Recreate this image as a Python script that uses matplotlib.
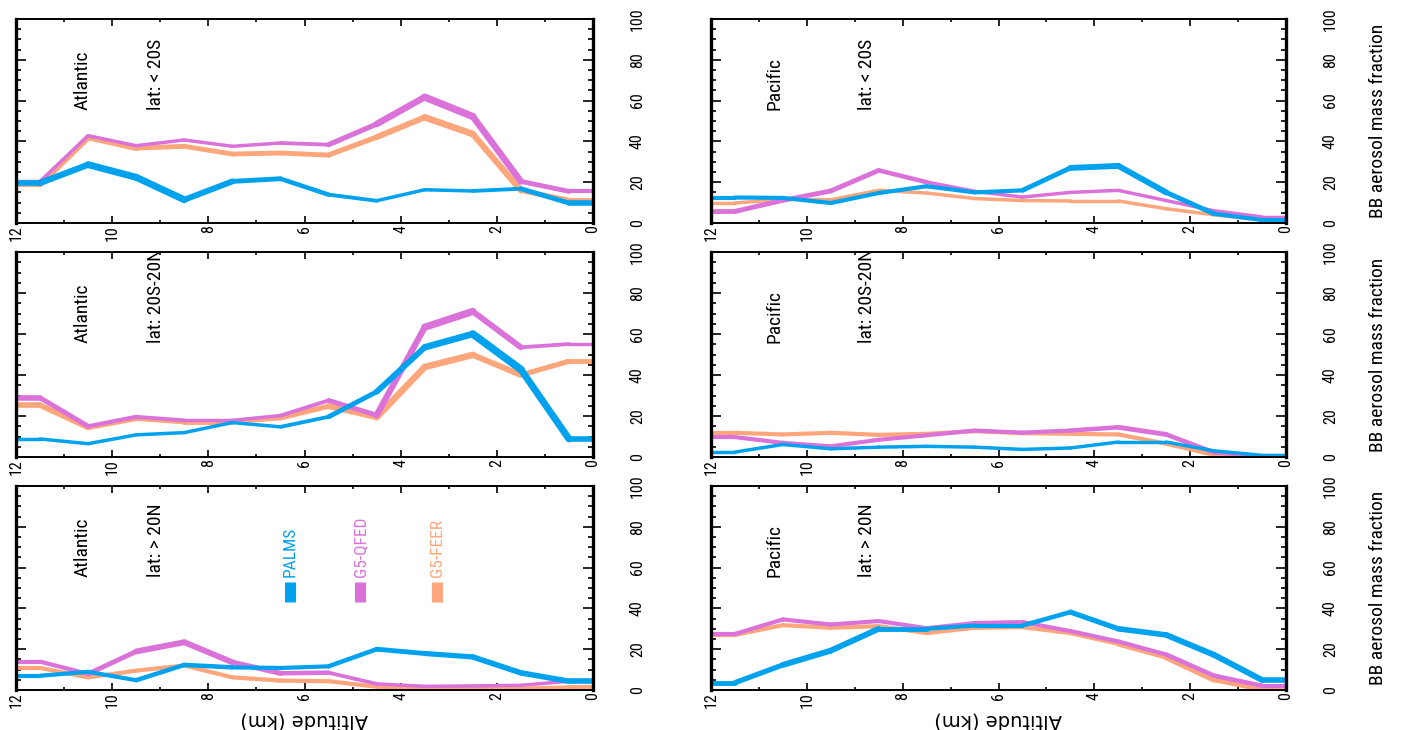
import numpy as np
import matplotlib
matplotlib.use('Agg')
import matplotlib.pyplot as plt
from matplotlib import font_manager
from matplotlib.collections import LineCollection
from matplotlib.ticker import MultipleLocator


# pick a narrow face if one is installed
def pick_font(names):
    for name in names:
        try:
            font_manager.findfont(name, fallback_to_default=False)
            return name
        except ValueError:
            pass
    return 'DejaVu Sans'


narrow = pick_font(['Liberation Sans Narrow', 'Roboto Condensed', 'Liberation Sans'])
plt.rcParams['font.family'] = [narrow, 'DejaVu Sans']

# altitude levels (km), profile ends carried to 12 and 0
alt = [12, 11.5, 10.5, 9.5, 8.5, 7.5, 6.5, 5.5, 4.5, 3.5, 2.5, 1.5, 0.5, 0]

# BB aerosol mass fraction (%), Atlantic lat < 20S
atl_s_palms = [19.6, 19.6, 28.6, 22.4, 11.4, 20.4, 21.7, 13.9, 10.9, 16.3, 15.7, 16.8, 9.8, 9.8]
atl_s_qfed = [20.4, 20.4, 42.8, 37.9, 40.7, 37.6, 39.2, 38.4, 48.5, 61.7, 52.2, 20.4, 15.5, 15.5]
atl_s_feer = [19.0, 19.0, 42.0, 36.7, 37.6, 33.8, 34.3, 33.3, 42.1, 51.8, 43.6, 16.0, 11.1, 11.1]
# Atlantic lat 20S-20N
atl_e_palms = [8.8, 8.8, 6.5, 10.8, 11.9, 16.8, 14.7, 19.6, 31.8, 53.5, 60.0, 42.7, 8.8, 8.8]
atl_e_qfed = [28.9, 28.9, 15.0, 19.6, 17.9, 17.9, 20.2, 27.6, 20.4, 63.3, 71.0, 53.5, 55.1, 55.1]
atl_e_feer = [25.3, 25.3, 14.4, 18.8, 17.1, 17.1, 19.1, 24.8, 19.4, 43.9, 49.8, 40.0, 46.7, 46.7]
# Atlantic lat > 20N
atl_n_palms = [7.0, 7.0, 8.9, 4.8, 12.3, 11.1, 10.8, 11.6, 20.0, 17.9, 16.2, 8.4, 4.3, 4.3]
atl_n_qfed = [13.9, 13.9, 7.9, 18.9, 23.4, 13.6, 8.2, 8.5, 3.0, 1.8, 2.0, 2.3, 4.3, 4.3]
atl_n_feer = [10.8, 10.8, 6.2, 9.5, 12.0, 6.2, 4.6, 4.3, 1.6, 1.0, 0.8, 0.7, 1.3, 1.3]
# Pacific lat < 20S
pac_s_palms = [12.5, 12.5, 12.3, 9.8, 14.7, 18.0, 15.0, 16.0, 27.0, 28.0, 15.0, 4.5, 1.5, 1.5]
pac_s_qfed = [5.7, 5.7, 11.1, 15.7, 25.8, 20.0, 15.5, 12.7, 15.0, 16.0, 11.0, 6.0, 3.0, 3.0]
pac_s_feer = [9.8, 9.8, 11.6, 11.4, 16.0, 14.7, 12.0, 11.0, 10.8, 10.8, 7.0, 4.0, 1.5, 1.5]
# Pacific lat 20S-20N
pac_e_palms = [2.4, 2.4, 6.1, 4.0, 4.8, 5.2, 4.8, 3.7, 4.4, 7.3, 7.3, 3.0, 0.8, 0.8]
pac_e_qfed = [9.7, 9.7, 6.9, 5.2, 8.4, 10.6, 12.9, 11.9, 12.9, 14.5, 11.0, 2.2, 0.5, 0.5]
pac_e_feer = [11.8, 11.8, 11.0, 11.8, 10.8, 11.3, 12.6, 11.6, 11.3, 11.0, 6.5, 1.0, 0.2, 0.2]
# Pacific lat > 20N
pac_n_palms = [3.6, 3.6, 12.3, 19.3, 30.0, 30.0, 31.6, 31.6, 38.2, 30.0, 27.0, 17.2, 4.9, 4.9]
pac_n_qfed = [27.5, 27.5, 34.6, 32.1, 33.8, 30.3, 32.8, 33.3, 28.9, 23.8, 17.4, 7.0, 2.1, 2.1]
pac_n_feer = [27.0, 27.0, 31.8, 30.5, 31.3, 27.9, 30.5, 30.8, 27.9, 22.6, 16.1, 5.1, 0.3, 0.3]

# line thickness at each level (scales with sampling)
atl_s_palms_w = [4, 4, 5, 5, 5, 3.5, 3.5, 3, 2.5, 2.5, 2.5, 3, 4, 4]
atl_s_qfed_w = [2.5, 2.5, 2.5, 2.5, 2.5, 2.5, 2.5, 3, 4.5, 5, 5.5, 4, 3, 3]
atl_s_feer_w = [3, 4, 5, 3.5, 3.5, 3.5, 3.5, 3.5, 4, 4.5, 5, 4, 3.5, 3.5]
atl_e_palms_w = [2.5, 2.5, 2.5, 2.5, 2.5, 2.5, 2.5, 3, 4, 4.5, 5, 6, 4, 4]
atl_e_qfed_w = [4, 4, 3, 3, 2.5, 2.5, 2.5, 3, 4, 5, 5.5, 3, 2.5, 2.5]
atl_e_feer_w = [4, 4, 4, 3.5, 3.5, 3.5, 3.5, 4, 4.5, 5, 4.5, 4, 3.5, 3.5]
atl_n_palms_w = [3, 3, 3, 3, 3.5, 3, 3, 3, 3.5, 3.5, 4, 4, 4, 4]
atl_n_qfed_w = [3, 3, 3, 4, 4.5, 4, 3.5, 3, 2.5, 2.5, 2.5, 2.5, 2.5, 2.5]
atl_n_feer_w = [3, 3, 3, 3, 3, 3, 3, 3, 3, 3, 3, 3, 3, 3]
pac_s_palms_w = [3, 3, 3, 3, 3, 3, 3, 3, 4, 4.5, 4, 3, 3, 3]
pac_s_qfed_w = [3.5, 3.5, 3.5, 3.5, 3.5, 3, 2.5, 2.5, 2.5, 2.5, 2.5, 2.5, 2.5, 2.5]
pac_s_feer_w = [2.5, 2.5, 2.5, 2.5, 2.5, 2.5, 2.5, 2.5, 2.5, 2.5, 2.5, 2.5, 2.5, 2.5]
pac_e_palms_w = [2.5, 2.5, 2.5, 2.5, 2.5, 2.5, 2.5, 2.5, 2.5, 2.5, 2.5, 2.5, 2.5, 2.5]
pac_e_qfed_w = [3, 3, 3, 3, 3, 3, 3, 3, 3, 3.5, 3.5, 3, 3, 3]
pac_e_feer_w = [3, 3, 3, 3, 3, 3, 3, 3, 3, 3, 3, 3, 3, 3]
pac_n_palms_w = [3.5, 3.5, 4, 4.5, 4, 3, 3, 3, 3.5, 4, 4, 4.5, 4, 4]
pac_n_qfed_w = [3, 3, 3, 3, 3, 3, 3, 3, 3, 3, 3, 3.5, 3, 3]
pac_n_feer_w = [3, 3, 3, 3, 3, 3, 3, 3, 3, 3, 4.5, 4.5, 3, 3]

series_names = ['PALMS', 'G5-QFED', 'G5-FEER']
c_palms = '#00a2ee'
c_qfed = '#da72da'
c_feer = '#fda67c'


def draw_profile(ax, vals, widths, color):
    pts = np.column_stack([alt, vals])
    segs = np.stack([pts[:-1], pts[1:]], axis=1)
    w = np.asarray(widths, dtype=float)
    lc = LineCollection(segs, linewidths=(w[:-1] + w[1:]) / 2, colors=color,
                        capstyle='round', joinstyle='round')
    ax.add_collection(lc)


def setup_axes(ax):
    ax.set_xlim(12, 0)
    ax.set_ylim(0, 100)
    ax.xaxis.set_major_locator(MultipleLocator(2))
    ax.xaxis.set_minor_locator(MultipleLocator(1))
    ax.yaxis.set_major_locator(MultipleLocator(20))
    ax.yaxis.set_minor_locator(MultipleLocator(5))
    ax.tick_params(which='both', direction='in', top=True, bottom=True,
                   left=True, right=True, labelleft=False, labelright=True,
                   width=1.2)
    ax.tick_params(axis='x', which='major', length=5, pad=1.5,
                   labelsize=11.5, labelrotation=90)
    ax.tick_params(axis='x', which='minor', length=2.5)
    ax.tick_params(axis='y', which='major', length=7, pad=32,
                   labelsize=11.5, labelrotation=90)
    ax.tick_params(axis='y', which='minor', length=3.5)
    for lbl in ax.get_yticklabels():
        lbl.set_ha('center')
        lbl.set_va('center')
    for side in ['left', 'right']:
        ax.spines[side].set_linewidth(2.4)
    for side in ['top', 'bottom']:
        ax.spines[side].set_linewidth(1.4)


fig = plt.figure(figsize=(14.05, 7.30), dpi=100)

col_x = [(16, 577), (711, 575)]
row_y = [(19, 223), (252, 457), (486, 690)]
W, H = 1405.0, 730.0

panels = [
    (0, 0, 'Atlantic', 'lat: < 20S', atl_s_palms, atl_s_qfed, atl_s_feer,
     atl_s_palms_w, atl_s_qfed_w, atl_s_feer_w),
    (0, 1, 'Atlantic', 'lat: 20S-20N', atl_e_palms, atl_e_qfed, atl_e_feer,
     atl_e_palms_w, atl_e_qfed_w, atl_e_feer_w),
    (0, 2, 'Atlantic', 'lat: > 20N', atl_n_palms, atl_n_qfed, atl_n_feer,
     atl_n_palms_w, atl_n_qfed_w, atl_n_feer_w),
    (1, 0, 'Pacific', 'lat: < 20S', pac_s_palms, pac_s_qfed, pac_s_feer,
     pac_s_palms_w, pac_s_qfed_w, pac_s_feer_w),
    (1, 1, 'Pacific', 'lat: 20S-20N', pac_e_palms, pac_e_qfed, pac_e_feer,
     pac_e_palms_w, pac_e_qfed_w, pac_e_feer_w),
    (1, 2, 'Pacific', 'lat: > 20N', pac_n_palms, pac_n_qfed, pac_n_feer,
     pac_n_palms_w, pac_n_qfed_w, pac_n_feer_w),
]

for col, row, region, band, palms, qfed, feer, palms_w, qfed_w, feer_w in panels:
    x0, wd = col_x[col]
    top, bot = row_y[row]
    ax = fig.add_axes([x0 / W, 1 - bot / H, wd / W, (bot - top) / H])
    setup_axes(ax)

    draw_profile(ax, feer, feer_w, c_feer)
    draw_profile(ax, qfed, qfed_w, c_qfed)
    draw_profile(ax, palms, palms_w, c_palms)

    tx = [0.115, 0.243] if col == 0 else [0.11, 0.272]
    ax.text(tx[0], 0.554, region, transform=ax.transAxes, rotation=90,
            ha='center', va='bottom', fontsize=14)
    ax.text(tx[1], 0.554, band, transform=ax.transAxes, rotation=90,
            ha='center', va='bottom', fontsize=14)

    if col == 1:
        ax.set_ylabel('BB aerosol mass fraction', fontsize=14)
        ax.yaxis.set_label_position('right')
        ax.yaxis.set_label_coords(1.145, 0.5)

    # legend drawn as rotated labels with a short bar under each
    if col == 0 and row == 2:
        for name, color, lx in zip(series_names, [c_palms, c_qfed, c_feer],
                                   [0.475, 0.597, 0.73]):
            ax.text(lx, 0.554, name, transform=ax.transAxes, rotation=90,
                    ha='center', va='bottom', fontsize=12.5, color=color)
            ax.plot([lx, lx], [0.43, 0.53], transform=ax.transAxes,
                    color=color, lw=8, solid_capstyle='butt')

for x0, wd in col_x:
    fig.text((x0 + wd / 2) / W, 1 - 711 / H, 'Altitude (km)', rotation=180,
             ha='center', va='top', fontsize=14, family='DejaVu Sans')

fig.savefig('out.png', dpi=100)
